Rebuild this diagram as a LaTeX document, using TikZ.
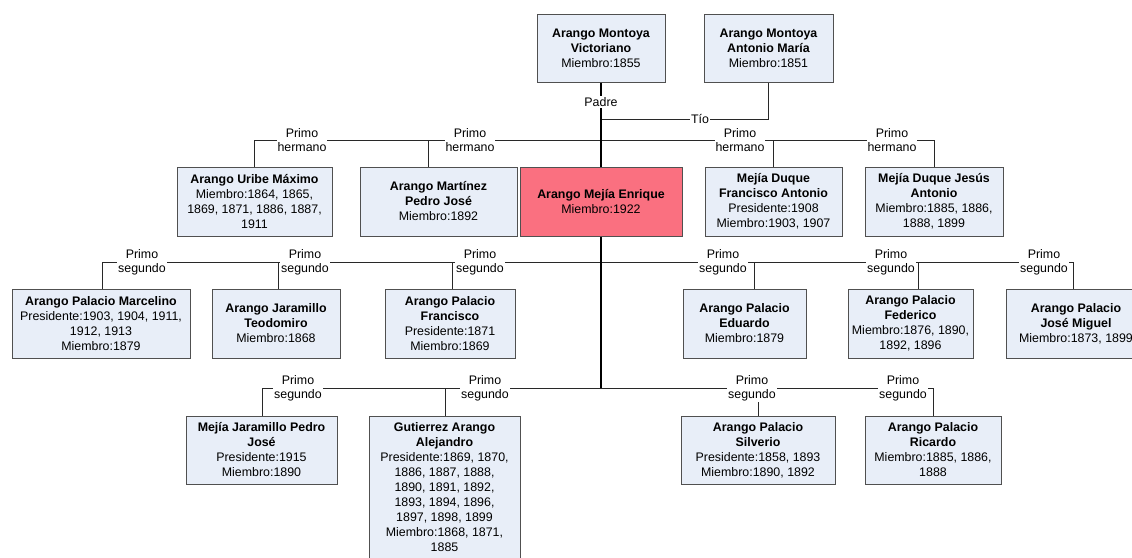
\documentclass[tikz,border=0pt]{standalone}
\usepackage{fontspec}
\setmainfont{Liberation Sans}
\definecolor{boxfill}{RGB}{232,238,248}
\definecolor{selfill}{RGB}{250,112,128}
\definecolor{boxline}{RGB}{80,80,80}
\definecolor{connline}{RGB}{40,40,40}
\tikzset{
  person/.style={draw=boxline, fill=boxfill, line width=1pt, align=center,
    inner sep=2pt, font=\fontsize{12.4}{15}\selectfont},
  focus/.style={person, fill=selfill},
  conn/.style={draw=connline, line width=1pt},
  trunk/.style={draw=black, line width=1.4pt},
  rel/.style={fill=white, align=center, inner sep=1pt,
    font=\fontsize{12.4}{14}\selectfont},
}
\begin{document}
\begin{tikzpicture}[x=1pt, y=-1pt]
\clip (0,0) rectangle (1132,557);
\fill[white] (0,0) rectangle (1132,557);

% ---- ancestors
\node[person, minimum width=128, minimum height=68] (vict) at (601,48)
  {\textbf{Arango Montoya}\\\textbf{Victoriano}\\Miembro:1855};
\node[person, minimum width=129, minimum height=68] (anton) at (768.5,48)
  {\textbf{Arango Montoya}\\\textbf{Antonio María}\\Miembro:1851};

% ---- first cousins and the central person
\node[person, minimum width=155, minimum height=69] (uribe) at (254.5,201.5)
  {\textbf{Arango Uribe Máximo}\\Miembro:1864, 1865,\\1869, 1871, 1886, 1887,\\1911};
\node[person, minimum width=157, minimum height=69] (martinez) at (438.5,201.5)
  {\textbf{Arango Martínez}\\\textbf{Pedro José}\\Miembro:1892};
\node[focus, minimum width=162, minimum height=69] (enrique) at (601,201.5)
  {\textbf{Arango Mejía Enrique}\\Miembro:1922};
\node[person, minimum width=137, minimum height=69] (franant) at (773.5,201.5)
  {\textbf{Mejía Duque}\\\textbf{Francisco Antonio}\\Presidente:1908\\Miembro:1903, 1907};
\node[person, minimum width=138, minimum height=69] (jesus) at (934,201.5)
  {\textbf{Mejía Duque Jesús}\\\textbf{Antonio}\\Miembro:1885, 1886,\\1888, 1899};

% ---- second cousins, upper row
\node[person, minimum width=178, minimum height=69] (marcelino) at (101,323.5)
  {\textbf{Arango Palacio Marcelino}\\Presidente:1903, 1904, 1911,\\1912, 1913\\Miembro:1879};
\node[person, minimum width=128, minimum height=69] (teodomiro) at (276,323.5)
  {\textbf{Arango Jaramillo}\\\textbf{Teodomiro}\\Miembro:1868};
\node[person, minimum width=130, minimum height=69] (pfrancisco) at (450,323.5)
  {\textbf{Arango Palacio}\\\textbf{Francisco}\\Presidente:1871\\Miembro:1869};
\node[person, minimum width=123, minimum height=69] (eduardo) at (744.5,323.5)
  {\textbf{Arango Palacio}\\\textbf{Eduardo}\\Miembro:1879};
\node[person, minimum width=125, minimum height=69] (federico) at (910.5,323.5)
  {\textbf{Arango Palacio}\\\textbf{Federico}\\Miembro:1876, 1890,\\1892, 1896};
\node[person, minimum width=140, minimum height=69] (josemiguel) at (1076,323.5)
  {\textbf{Arango Palacio}\\\textbf{José Miguel}\\Miembro:1873, 1899};

% ---- second cousins, lower row
\node[person, minimum width=151, minimum height=68] (mjaramillo) at (261.5,450)
  {\textbf{Mejía Jaramillo Pedro}\\\textbf{José}\\Presidente:1915\\Miembro:1890};
\node[person, minimum width=151, minimum height=142] (gutierrez) at (444.5,487)
  {\textbf{Gutierrez Arango}\\\textbf{Alejandro}\\Presidente:1869, 1870,\\1886, 1887, 1888,\\1890, 1891, 1892,\\1893, 1894, 1896,\\1897, 1898, 1899\\Miembro:1868, 1871,\\1885};
\node[person, minimum width=154, minimum height=68] (silverio) at (758,450)
  {\textbf{Arango Palacio}\\\textbf{Silverio}\\Presidente:1858, 1893\\Miembro:1890, 1892};
\node[person, minimum width=136, minimum height=68] (ricardo) at (933,450)
  {\textbf{Arango Palacio}\\\textbf{Ricardo}\\Miembro:1885, 1886,\\1888};

% ---- junctions on the trunk
\coordinate (tio)  at (601,119);
\coordinate (bar1) at (601,140);
\coordinate (bar2) at (601,262);
\coordinate (bar3) at (601,388);

% ---- connectors
\draw[conn] (anton.south) |- (tio);
\draw[conn] (bar1) -| (uribe.north);
\draw[conn] (bar1) -| ([xshift=-10.5pt]martinez.north);
\draw[conn] (bar1) -| (franant.north);
\draw[conn] (bar1) -| (jesus.north);
\draw[conn] (bar2) -| ([xshift=1pt]marcelino.north);
\draw[conn] (bar2) -| ([xshift=2pt]teodomiro.north);
\draw[conn] (bar2) -| ([xshift=2pt]pfrancisco.north);
\draw[conn] (bar2) -| ([xshift=9.5pt]eduardo.north);
\draw[conn] (bar2) -| ([xshift=7.5pt]federico.north);
\draw[conn] (bar2) -| ([xshift=-3pt]josemiguel.north);
\draw[conn] (bar3) -| ([xshift=0.5pt]mjaramillo.north);
\draw[conn] (bar3) -| ([xshift=0.5pt]gutierrez.north);
\draw[conn] (bar3) -| (silverio.north);
\draw[conn] (bar3) -| (ricardo.north);
\draw[trunk] (vict.south) -- (enrique.north);
\draw[trunk] (enrique.south) -- (bar3);

% ---- relationship labels
\node[rel] (lpadre) at (601,102) {Padre};
\node[rel] (ltio) at (700,119) {Tío};
\node[rel] (lh1) at (302,140) {Primo\\hermano};
\node[rel] (lh2) at (470,140) {Primo\\hermano};
\node[rel] (lh3) at (740,140) {Primo\\hermano};
\node[rel] (lh4) at (892,140) {Primo\\hermano};
\node[rel] (ls1) at (142,262) {Primo\\segundo};
\node[rel] (ls2) at (305,262) {Primo\\segundo};
\node[rel] (ls3) at (480,262) {Primo\\segundo};
\node[rel] (ls4) at (723,262) {Primo\\segundo};
\node[rel] (ls5) at (891,262) {Primo\\segundo};
\node[rel] (ls6) at (1044,262) {Primo\\segundo};
\node[rel] (ls7) at (298,388) {Primo\\segundo};
\node[rel] (ls8) at (485,388) {Primo\\segundo};
\node[rel] (ls9) at (752,388) {Primo\\segundo};
\node[rel] (ls10) at (903,388) {Primo\\segundo};
\end{tikzpicture}
\end{document}
